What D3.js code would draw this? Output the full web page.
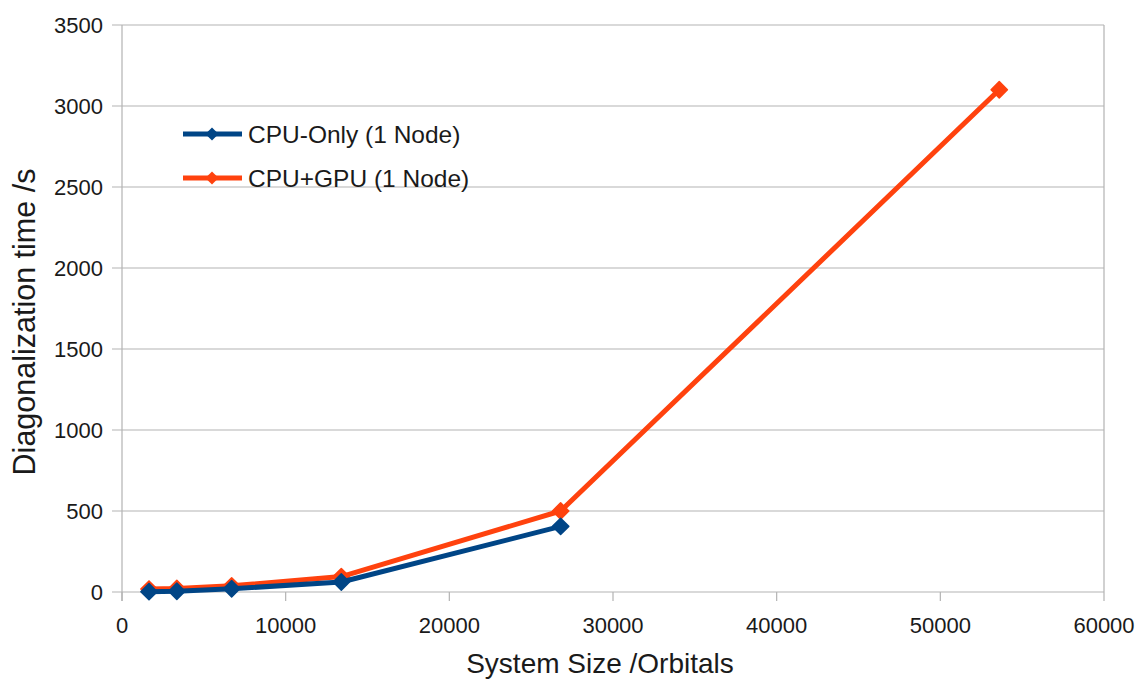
<!DOCTYPE html>
<html><head><meta charset="utf-8">
<script src="https://cdn.jsdelivr.net/npm/d3@7"></script>
<style>body{margin:0;background:#fff}svg{display:block}text{font-family:"Liberation Sans",Arial,sans-serif}</style>
</head><body>
<svg id="c" width="1139" height="679"></svg>
<script>
const sizes = [1650, 3350, 6700, 13400, 26800, 53600];
const cpuOnly = [2, 5, 20, 62, 405];
const cpuGpu = [18, 22, 38, 95, 500, 3100];
const seriesNames = ["CPU-Only (1 Node)", "CPU+GPU (1 Node)"];
const seriesColors = ["#004586", "#ff420e"];
const xTicks = [0, 10000, 20000, 30000, 40000, 50000, 60000];
const yTicks = [0, 500, 1000, 1500, 2000, 2500, 3000, 3500];

const svg = d3.select("#c");
const x = d3.scaleLinear().domain([0, 60000]).range([122, 1104]);
const y = d3.scaleLinear().domain([0, 3500]).range([592, 25]);

// grid
svg.append("g").selectAll("line").data(yTicks).join("line")
  .attr("x1", 112).attr("x2", 1104).attr("y1", d => y(d)).attr("y2", d => y(d))
  .attr("stroke", "#b3b3b3").attr("stroke-width", 1.2);
svg.append("line").attr("x1", 1104).attr("x2", 1104).attr("y1", y(3500)).attr("y2", y(0))
  .attr("stroke", "#b3b3b3").attr("stroke-width", 1.2);
svg.append("line").attr("x1", 122).attr("x2", 122).attr("y1", y(3500)).attr("y2", 601)
  .attr("stroke", "#b3b3b3").attr("stroke-width", 1.2);
svg.append("g").selectAll("line").data(xTicks).join("line")
  .attr("x1", d => x(d)).attr("x2", d => x(d)).attr("y1", 592).attr("y2", 601)
  .attr("stroke", "#b3b3b3").attr("stroke-width", 1.2);

// tick labels
svg.append("g").selectAll("text").data(yTicks).join("text")
  .attr("x", 103).attr("y", d => y(d)).attr("dy", "0.36em").attr("text-anchor", "end")
  .attr("font-size", 22).attr("fill", "#1a1a1a").text(d => d);
svg.append("g").selectAll("text").data(xTicks).join("text")
  .attr("x", d => x(d)).attr("y", 633).attr("text-anchor", "middle")
  .attr("font-size", 22).attr("fill", "#1a1a1a").text(d => d);

// axis titles
svg.append("text").attr("x", 600).attr("y", 673).attr("text-anchor", "middle")
  .attr("font-size", 28).attr("fill", "#1a1a1a").text("System Size /Orbitals");
svg.append("text").attr("transform", "translate(35,322) rotate(-90)").attr("text-anchor", "middle")
  .attr("font-size", 30.5).attr("fill", "#1a1a1a").text("Diagonalization time /s");

const data = [cpuOnly, cpuGpu];
const line = d3.line().x(d => x(d[0])).y(d => y(d[1]));
const diamond = d3.symbol().type(d3.symbolDiamond2).size(170);

[1, 0].forEach(i => {
  const pts = data[i].map((v, j) => [sizes[j], v]);
  svg.append("path").attr("d", line(pts)).attr("fill", "none")
    .attr("stroke", seriesColors[i]).attr("stroke-width", 5).attr("stroke-linejoin", "round");
  svg.append("g").selectAll("path").data(pts).join("path")
    .attr("d", diamond).attr("transform", d => `translate(${x(d[0])},${y(d[1])})`)
    .attr("fill", seriesColors[i]).attr("stroke", seriesColors[i]).attr("stroke-width", 1.5)
    .attr("stroke-linejoin", "round");
});

// legend
seriesNames.forEach((n, i) => {
  const ly = 134 + i * 44;
  svg.append("line").attr("x1", 183).attr("x2", 242).attr("y1", ly).attr("y2", ly)
    .attr("stroke", seriesColors[i]).attr("stroke-width", 5);
  svg.append("path").attr("d", d3.symbol().type(d3.symbolDiamond2).size(110))
    .attr("transform", `translate(212,${ly})`).attr("fill", seriesColors[i]);
  svg.append("text").attr("x", 248).attr("y", ly).attr("dy", "0.36em")
    .attr("font-size", 24.5).attr("fill", "#1a1a1a").text(n);
});
</script>
</body></html>
